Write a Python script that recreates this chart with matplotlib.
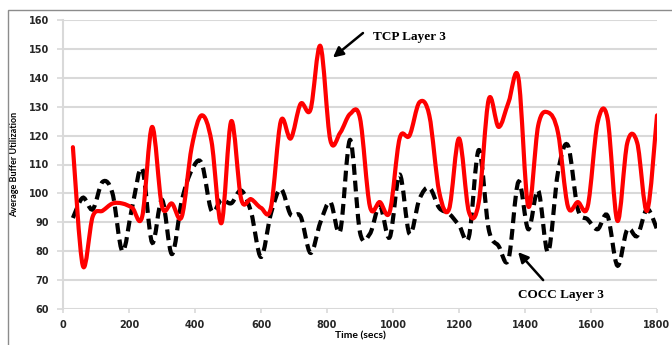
import numpy as np
import matplotlib
matplotlib.use("Agg")
import matplotlib.pyplot as plt
from matplotlib.path import Path
from matplotlib.patches import PathPatch, Rectangle

# sample times (every 30 s)
time_s = list(range(30, 1801, 30))

tcp_layer3 = [
    116, 75, 92, 94, 96.5, 96.5, 95, 92, 123, 95.5,
    96.5, 92, 116, 127, 118, 89.7, 125, 98, 98, 95,
    95, 125, 119, 131, 129, 151, 118.5, 121, 127.5, 126,
    95.5, 97, 93.6, 119, 120, 131.5, 127, 100.5, 94.6, 119,
    93.6, 97, 132.5, 123, 131.5, 140, 95.5, 123.5, 128, 121,
    95.5, 97, 95.5, 124.5, 126, 90.5, 117.5, 117.5, 94, 127,
]

cocc_layer3 = [
    91.5, 98.5, 94.5, 104, 100, 80, 95.5, 108.5, 83, 97.8,
    79, 97.5, 108, 110.5, 94, 97.8, 96.6, 101, 93.5, 78,
    93, 101.5, 92.6, 92, 79.4, 90, 97, 87, 118.5, 86.5,
    86, 95.7, 84.8, 106.5, 86, 98, 102, 95, 93, 89,
    85, 115, 87.6, 81.8, 77.2, 104, 87.6, 101, 79.7, 107.4,
    116.6, 94.6, 91, 87.6, 92.3, 75, 87.6, 85.3, 94.6, 87.6,
]


def smooth_path(xs, ys):
    # Excel-style smoothed line: Catmull-Rom segments as cubic Beziers
    pts = np.column_stack([xs, ys]).astype(float)
    n = len(pts)
    verts = [pts[0]]
    codes = [Path.MOVETO]
    for i in range(n - 1):
        p0 = pts[i - 1] if i > 0 else pts[i]
        p1 = pts[i]
        p2 = pts[i + 1]
        p3 = pts[i + 2] if i + 2 < n else pts[i + 1]
        c1 = p1 + (p2 - p0) / 6.0
        c2 = p2 - (p3 - p1) / 6.0
        verts += [c1, c2, p2]
        codes += [Path.CURVE4] * 3
    return Path(verts, codes)


fig = plt.figure(figsize=(6.72, 3.45), dpi=100)
ax = fig.add_axes([63 / 672, 1 - 309 / 345, 594 / 672, 289 / 345])

# outer frame of the chart area
fig.patches.append(Rectangle((8 / 672, -0.1), 1.2, 1 - 10 / 345 + 0.1,
                             transform=fig.transFigure, fill=False,
                             edgecolor="#8c8c8c", lw=1.0))

ax.add_patch(PathPatch(smooth_path(time_s, cocc_layer3), fill=False,
                       edgecolor="black", lw=3.0, linestyle=(0, (2.6, 1.4)),
                       capstyle="butt", zorder=3))
ax.add_patch(PathPatch(smooth_path(time_s, tcp_layer3), fill=False,
                       edgecolor="#ff0000", lw=3.0, capstyle="round",
                       joinstyle="round", zorder=4))

ax.set_xlim(0, 1800)
ax.set_ylim(60, 160)
ax.set_xticks(range(0, 1801, 200))
ax.set_yticks(range(60, 161, 10))
ax.yaxis.grid(True, color="#d9d9d9", lw=1.5)
ax.set_axisbelow(True)
for s in ["top", "right", "bottom"]:
    ax.spines[s].set_visible(False)
ax.spines["left"].set_color("#d9d9d9")
ax.spines["left"].set_linewidth(1.5)
ax.tick_params(axis="y", colors="#d9d9d9", width=1.2, length=4,
               labelcolor="#262626", labelsize=7, pad=6)
ax.tick_params(axis="x", colors="#d9d9d9", width=1.2, length=3,
               labelcolor="#262626", labelsize=7, pad=5)
for lab in ax.get_xticklabels() + ax.get_yticklabels():
    lab.set_fontweight("bold")
    lab.set_family("DejaVu Sans")

ax.set_ylabel("Average Buffer Utilization", fontsize=6.5, fontweight="bold",
              family="Lato", labelpad=7)
ax.set_xlabel("Time (secs)", fontsize=7.5, fontweight="bold", family="Lato",
              labelpad=1)

ax.annotate("", xy=(818, 147), xytext=(909, 155.5),
            arrowprops=dict(arrowstyle="-|>,head_length=0.6,head_width=0.3",
                            color="black", lw=1.8, shrinkA=0, shrinkB=0),
            annotation_clip=False)
ax.text(939, 154, "TCP Layer 3", family="Liberation Serif", fontweight="bold",
        fontsize=9.5, va="center", ha="left")

ax.annotate("", xy=(1379, 79.7), xytext=(1455, 70),
            arrowprops=dict(arrowstyle="-|>,head_length=0.6,head_width=0.3",
                            color="black", lw=1.8, shrinkA=0, shrinkB=0),
            annotation_clip=False)
ax.text(1379, 64.8, "COCC Layer 3", family="Liberation Serif",
        fontweight="bold", fontsize=9.5, va="center", ha="left")

fig.savefig("out.png", dpi=100)
